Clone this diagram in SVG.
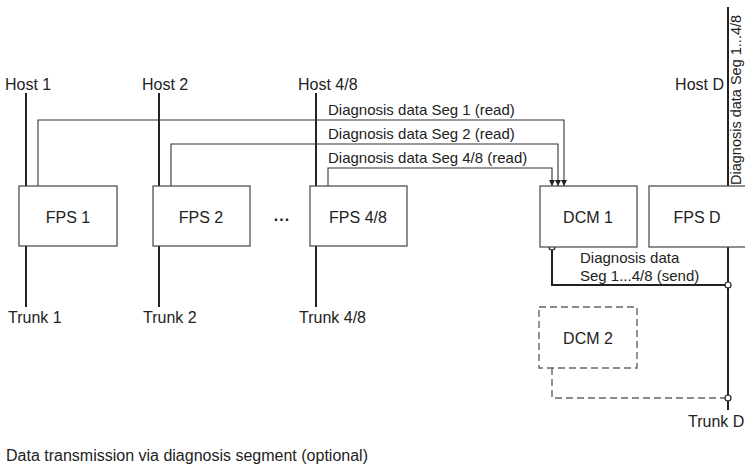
<svg xmlns="http://www.w3.org/2000/svg" width="745" height="468" viewBox="0 0 745 468">
<style>
text{font-family:"Liberation Sans",Arial,sans-serif;fill:#222}
.lbl{font-size:16px}
.dg{font-size:15px}
.box{fill:#fff;stroke:#444;stroke-width:1.2}
.dbox{fill:#fff;stroke:#666;stroke-width:1.4;stroke-dasharray:7 4}
.bus{fill:none;stroke:#222;stroke-width:2}
.rd{fill:none;stroke:#333;stroke-width:1.1}
.dash{fill:none;stroke:#666;stroke-width:1.4;stroke-dasharray:7 4}
.pt{fill:#fff;stroke:#222;stroke-width:1.2}
</style>
<defs>
<marker id="ah" markerWidth="8" markerHeight="8" refX="6" refY="3" orient="auto" markerUnits="userSpaceOnUse">
<path d="M0,0 L6,3 L0,6 Z" fill="#222"/>
</marker>
</defs>
<g id="connectors">
<line class="bus" x1="26" y1="93" x2="26" y2="186"/>
<line class="bus" x1="26" y1="246" x2="26" y2="307"/>
<line class="bus" x1="159" y1="93" x2="159" y2="186"/>
<line class="bus" x1="159" y1="246" x2="159" y2="307"/>
<line class="bus" x1="316" y1="93" x2="316" y2="186"/>
<line class="bus" x1="316" y1="246" x2="316" y2="307"/>
<line class="bus" x1="728" y1="7" x2="728" y2="186"/>
<line class="bus" x1="728" y1="247" x2="728" y2="410"/>
<polyline class="rd" points="38,186 38,120 564,120 564,186" marker-end="url(#ah)"/>
<polyline class="rd" points="171,186 171,144 558,144 558,186" marker-end="url(#ah)"/>
<polyline class="rd" points="328,186 328,168 552,168 552,186" marker-end="url(#ah)"/>
<polyline class="bus" points="552,250 552,285 725,285"/>
<polyline class="dash" points="552,368 552,398 725,398"/>
<circle class="pt" cx="552" cy="247" r="3"/>
<circle class="pt" cx="728" cy="285" r="3"/>
<circle class="pt" cx="728" cy="398" r="3"/>
<text class="dg" x="328" y="115">Diagnosis data Seg 1 (read)</text>
<text class="dg" x="328" y="139">Diagnosis data Seg 2 (read)</text>
<text class="dg" x="328" y="163">Diagnosis data Seg 4/8 (read)</text>
<text class="dg" x="580" y="263">Diagnosis data</text>
<text class="dg" x="580" y="281">Seg 1...4/8 (send)</text>
<text class="dg" style="font-size:14.5px" transform="translate(741,185) rotate(-90)">Diagnosis data Seg 1...4/8</text>
</g>
<g id="host1"><text class="lbl" x="5" y="90">Host 1</text></g>
<g id="host2"><text class="lbl" x="142" y="90">Host 2</text></g>
<g id="host48"><text class="lbl" x="298" y="90">Host 4/8</text></g>
<g id="hostD"><text class="lbl" x="724" y="90" text-anchor="end">Host D</text></g>
<g id="fps1"><rect class="box" x="19" y="186" width="98" height="60"/><text class="lbl" x="68" y="223" text-anchor="middle">FPS 1</text></g>
<g id="fps2"><rect class="box" x="153" y="186" width="97" height="60"/><text class="lbl" x="201" y="223" text-anchor="middle">FPS 2</text></g>
<g id="dots"><text class="lbl" x="282" y="221" text-anchor="middle" font-weight="bold" letter-spacing="1">...</text></g>
<g id="fps48"><rect class="box" x="310" y="186" width="97" height="60"/><text class="lbl" x="358" y="223" text-anchor="middle">FPS 4/8</text></g>
<g id="dcm1"><rect class="box" x="540" y="186" width="97" height="61"/><text class="lbl" x="588" y="223" text-anchor="middle">DCM 1</text></g>
<g id="fpsD"><rect class="box" x="649" y="186" width="110" height="61"/><text class="lbl" x="697" y="223" text-anchor="middle">FPS D</text></g>
<g id="dcm2"><rect class="dbox" x="539" y="307" width="98" height="61"/><text class="lbl" x="588" y="344" text-anchor="middle">DCM 2</text></g>
<g id="trunk1"><text class="lbl" x="8" y="323">Trunk 1</text></g>
<g id="trunk2"><text class="lbl" x="143" y="323">Trunk 2</text></g>
<g id="trunk48"><text class="lbl" x="299" y="323">Trunk 4/8</text></g>
<g id="trunkD"><text class="lbl" x="688" y="427">Trunk D</text></g>
<g id="caption"><text class="lbl" x="6" y="461">Data transmission via diagnosis segment (optional)</text></g>
</svg>
